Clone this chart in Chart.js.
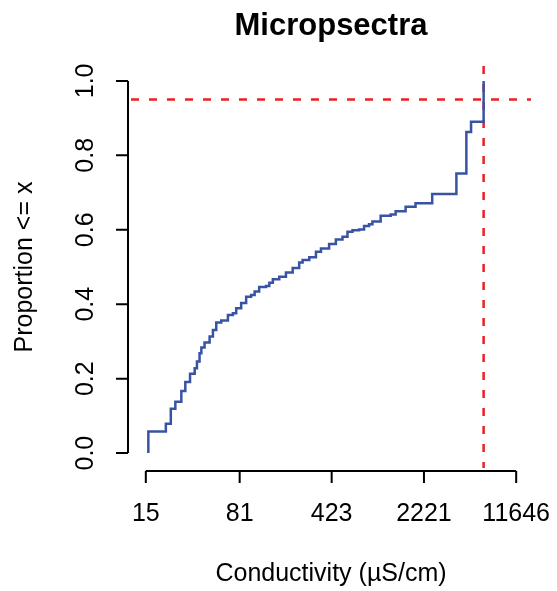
<!DOCTYPE html>
<html>
<head>
<meta charset="utf-8">
<script src="https://cdn.jsdelivr.net/npm/chart.js@4"></script>
<style>
  html, body { margin: 0; padding: 0; background: #fff; }
  #wrap { width: 557px; height: 591px; }
</style>
</head>
<body>
<div id="wrap"><canvas id="myChart" width="557" height="591"></canvas></div>
<script>
// conductivity (uS/cm) where the ECDF steps up, and the proportion reached there
const conductivity = [15.7, 15.7, 21.5, 23.5, 25.5, 28.4, 30.5, 33.2, 36.1, 37.6,
    39.4, 40.7, 43.1, 47.2, 50.1, 53.2, 58.2, 65.6, 71.7, 76.1,
    83.2, 91.0, 99.5, 106, 115, 130, 138, 147, 165, 186,
    210, 236, 251, 283, 319, 349, 404, 456, 514, 562,
    615, 692, 757, 828, 880, 1020, 1221, 1335, 1597, 1909,
    2575, 3977, 4758, 5176, 6488];
const proportion = [0, 0.058, 0.079, 0.119, 0.138, 0.167, 0.191, 0.213, 0.228, 0.246,
    0.268, 0.284, 0.297, 0.313, 0.331, 0.351, 0.356, 0.371, 0.376, 0.389,
    0.403, 0.420, 0.425, 0.434, 0.446, 0.449, 0.458, 0.467, 0.474, 0.485,
    0.497, 0.512, 0.519, 0.526, 0.541, 0.550, 0.562, 0.574, 0.581, 0.595,
    0.599, 0.601, 0.610, 0.615, 0.622, 0.638, 0.641, 0.650, 0.662, 0.671,
    0.696, 0.751, 0.863, 0.890, 1.0];

const xTicks = [15, 81, 423, 2221, 11646];
const xTickLabels = ["15", "81", "423", "2221", "11646"];
const yTicks = [0, 0.2, 0.4, 0.6, 0.8, 1.0];
const yTickLabels = ["0.0", "0.2", "0.4", "0.6", "0.8", "1.0"];

const cutValue = 6488;   // vertical reference line
const cutLevel = 0.95;   // horizontal reference line

const titleText = "Micropsectra";
const xTitle = "Conductivity (\u00b5S/cm)";
const yTitle = "Proportion <= x";

const points = [];
for (let i = 0; i < conductivity.length; i++) {
    points.push({x: conductivity[i], y: proportion[i]});
}

// R-like 4% axis extension
const lx0 = Math.log(xTicks[0]), lx1 = Math.log(xTicks[xTicks.length - 1]);
const ext = (lx1 - lx0) * 0.04;

const FONT = "'Liberation Sans', Arial, Helvetica, sans-serif";

const refLines = {
    id: "refLines",
    beforeDatasetsDraw(chart) {
        const c = chart.ctx, a = chart.chartArea;
        const xs = chart.scales.x, ys = chart.scales.y;
        c.save();
        c.strokeStyle = "rgb(236,30,38)";
        c.lineWidth = 2.5;
        c.setLineDash([8, 10]);
        const yy = ys.getPixelForValue(cutLevel);
        c.beginPath();
        c.moveTo(a.left, yy);
        c.lineTo(a.right, yy);
        c.stroke();
        const xx = xs.getPixelForValue(cutValue);
        c.beginPath();
        c.moveTo(xx, a.top);
        c.lineTo(xx, a.bottom);
        c.stroke();
        c.restore();
    }
};

const rAxes = {
    id: "rAxes",
    afterDraw(chart) {
        const c = chart.ctx, a = chart.chartArea;
        const xs = chart.scales.x, ys = chart.scales.y;
        const tick = 12;
        c.save();
        c.strokeStyle = "#000";
        c.fillStyle = "#000";
        c.lineWidth = 2;

        // x axis
        const axY = a.bottom + 3;
        c.beginPath();
        c.moveTo(xs.getPixelForValue(xTicks[0]), axY);
        c.lineTo(xs.getPixelForValue(xTicks[xTicks.length - 1]), axY);
        for (const t of xTicks) {
            const p = xs.getPixelForValue(t);
            c.moveTo(p, axY);
            c.lineTo(p, axY + tick);
        }
        c.stroke();
        c.font = "25px " + FONT;
        c.textAlign = "center";
        c.textBaseline = "middle";
        xTicks.forEach((t, i) => {
            c.fillText(xTickLabels[i], xs.getPixelForValue(t), 514);
        });

        // y axis
        const axX = a.left - 3;
        c.beginPath();
        c.moveTo(axX, ys.getPixelForValue(yTicks[0]));
        c.lineTo(axX, ys.getPixelForValue(yTicks[yTicks.length - 1]));
        for (const t of yTicks) {
            const p = ys.getPixelForValue(t);
            c.moveTo(axX, p);
            c.lineTo(axX - tick, p);
        }
        c.stroke();
        yTicks.forEach((t, i) => {
            c.save();
            c.translate(86, ys.getPixelForValue(t));
            c.rotate(-Math.PI / 2);
            c.fillText(yTickLabels[i], 0, 0);
            c.restore();
        });

        // titles
        c.fillText(xTitle, (a.left + a.right) / 2, 574);
        c.save();
        c.translate(25, (a.top + a.bottom) / 2);
        c.rotate(-Math.PI / 2);
        c.fillText(yTitle, 0, 0);
        c.restore();
        c.font = "bold 31px " + FONT;
        c.fillText(titleText, (a.left + a.right) / 2, 26);
        c.restore();
    }
};

new Chart(document.getElementById("myChart"), {
    type: "line",
    data: {
        datasets: [{
            data: points,
            borderColor: "#3953a4",
            borderWidth: 2.5,
            pointRadius: 0,
            stepped: true,
            fill: false
        }]
    },
    options: {
        responsive: false,
        animation: false,
        layout: {padding: {left: 131, top: 66, right: 26, bottom: 123}},
        plugins: {legend: {display: false}, tooltip: {enabled: false}},
        scales: {
            x: {
                type: "logarithmic",
                display: false,
                min: Math.exp(lx0 - ext),
                max: Math.exp(lx1 + ext)
            },
            y: {
                type: "linear",
                display: false,
                min: -0.04,
                max: 1.04
            }
        }
    },
    plugins: [refLines, rAxes]
});
</script>
</body>
</html>
